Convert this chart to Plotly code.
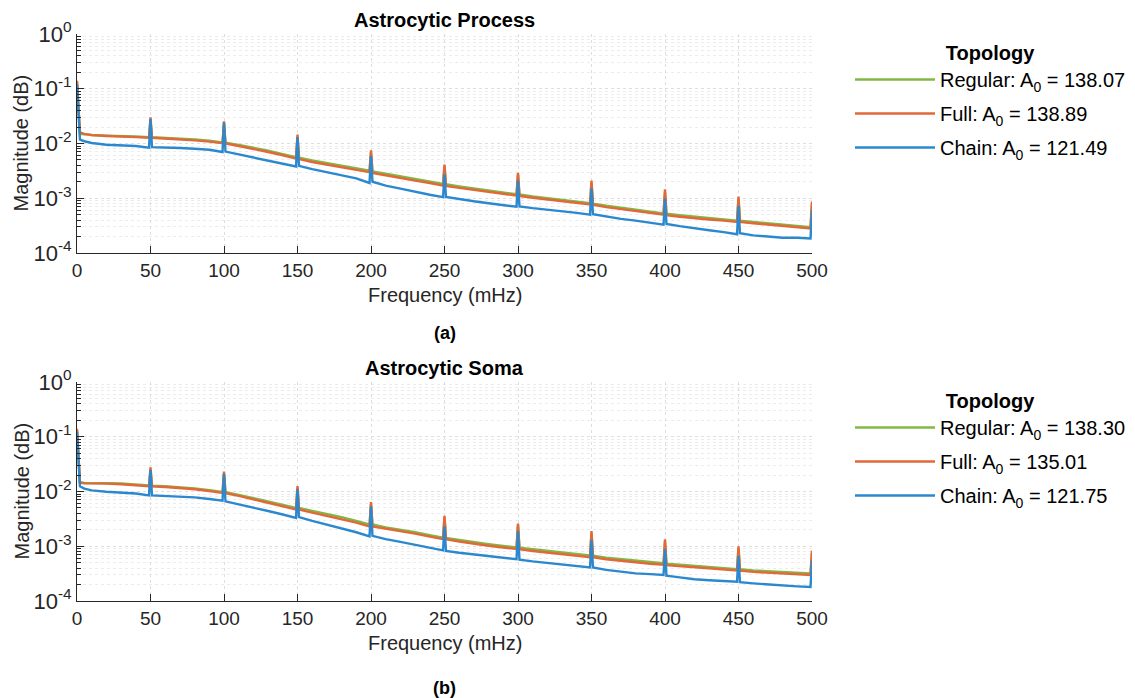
import plotly.graph_objects as go

# ---------------- data ----------------
freq = [0, 2, 5, 10, 20, 30, 40, 49, 50, 51,
        60, 70, 80, 90, 99, 100, 101,
        110, 120, 130, 140, 149, 150, 151,
        160, 170, 180, 190, 199, 200, 201,
        210, 220, 230, 240, 249, 250, 251,
        260, 270, 280, 290, 299, 300, 301,
        310, 320, 330, 340, 349, 350, 351,
        360, 370, 380, 390, 399, 400, 401,
        410, 420, 430, 440, 449, 450, 451,
        460, 470, 480, 490, 499, 500]

# Astrocytic Process
proc_regular = [0.13, 0.0150, 0.0148, 0.0143, 0.0139, 0.0138, 0.0134, 0.0130, 0.026, 0.0130,
                0.0127, 0.0123, 0.0118, 0.0112, 0.0105, 0.022, 0.0104,
                0.0094, 0.0084, 0.0074, 0.0064, 0.0056, 0.013, 0.0055,
                0.0049, 0.0044, 0.0039, 0.0035, 0.0032, 0.0068, 0.0031,
                0.0028, 0.0025, 0.0022, 0.0020, 0.00182, 0.0038, 0.0018,
                0.00165, 0.00151, 0.00139, 0.00128, 0.00118, 0.0027, 0.00117,
                0.00108, 0.00100, 0.00093, 0.00086, 0.00081, 0.0019, 0.0008,
                0.00073, 0.00067, 0.00062, 0.00057, 0.00053, 0.0013, 0.00052,
                0.00049, 0.00046, 0.00043, 0.00041, 0.00039, 0.00098, 0.00039,
                0.00037, 0.00035, 0.00033, 0.00031, 0.000295, 0.0008]
proc_full = [0.14, 0.0160, 0.0150, 0.0142, 0.0137, 0.0135, 0.0131, 0.0127, 0.030, 0.0127,
             0.0124, 0.0120, 0.0114, 0.0108, 0.0101, 0.0255, 0.0100,
             0.0090, 0.0080, 0.0070, 0.0061, 0.0053, 0.0145, 0.0052,
             0.0046, 0.0041, 0.0036, 0.0033, 0.0030, 0.0075, 0.0029,
             0.0026, 0.0023, 0.0021, 0.0019, 0.0017, 0.0041, 0.00168,
             0.00155, 0.00142, 0.00131, 0.00121, 0.00112, 0.0029, 0.00110,
             0.00102, 0.00095, 0.00088, 0.00082, 0.00077, 0.0021, 0.00076,
             0.00069, 0.00064, 0.00059, 0.00054, 0.00050, 0.00145, 0.00049,
             0.00046, 0.00043, 0.00041, 0.00039, 0.00037, 0.00107, 0.00037,
             0.00035, 0.00033, 0.00031, 0.00029, 0.00028, 0.00087]
proc_chain = [0.12, 0.0118, 0.0110, 0.0102, 0.0095, 0.0092, 0.0090, 0.0084, 0.028, 0.0086,
              0.0085, 0.0083, 0.0080, 0.0077, 0.0070, 0.024, 0.0071,
              0.0063, 0.0056, 0.0049, 0.0043, 0.0038, 0.013, 0.0039,
              0.0034, 0.0030, 0.0026, 0.0023, 0.0019, 0.0059, 0.0020,
              0.0017, 0.0015, 0.0013, 0.00116, 0.00105, 0.0027, 0.00106,
              0.00096, 0.00088, 0.00081, 0.00076, 0.00070, 0.0021, 0.00071,
              0.00066, 0.00062, 0.00058, 0.00054, 0.00050, 0.0015, 0.00051,
              0.00046, 0.00042, 0.00039, 0.00036, 0.00033, 0.00098, 0.00034,
              0.00031, 0.00028, 0.00026, 0.00024, 0.00022, 0.00072, 0.00023,
              0.00021, 0.000200, 0.00019, 0.00019, 0.000185, 0.00059]

# Astrocytic Soma
soma_regular = [0.13, 0.0148, 0.0144, 0.0142, 0.0142, 0.0140, 0.0135, 0.0129, 0.025, 0.0128,
                0.0125, 0.0120, 0.0114, 0.0106, 0.0098, 0.021, 0.0097,
                0.0087, 0.0076, 0.0066, 0.0057, 0.0050, 0.0115, 0.0050,
                0.0044, 0.0039, 0.0034, 0.0029, 0.0025, 0.0058, 0.0025,
                0.0022, 0.0020, 0.0018, 0.0016, 0.00143, 0.0033, 0.00142,
                0.00130, 0.00118, 0.00109, 0.00101, 0.00095, 0.0024, 0.00094,
                0.00088, 0.00082, 0.00077, 0.00072, 0.00068, 0.0017, 0.00067,
                0.00062, 0.00058, 0.00055, 0.00052, 0.00049, 0.0012, 0.00048,
                0.00046, 0.00044, 0.00042, 0.00040, 0.00038, 0.0009, 0.00038,
                0.00036, 0.00035, 0.00034, 0.00033, 0.00032, 0.00075]
soma_full = [0.14, 0.0145, 0.0141, 0.0139, 0.0139, 0.0136, 0.0131, 0.0125, 0.0276, 0.0124,
             0.0121, 0.0116, 0.0110, 0.0102, 0.0094, 0.023, 0.0093,
             0.0083, 0.0072, 0.0063, 0.0054, 0.0047, 0.0126, 0.0047,
             0.0041, 0.0036, 0.0031, 0.0027, 0.0023, 0.0064, 0.0023,
             0.0021, 0.0019, 0.0017, 0.0015, 0.00135, 0.0036, 0.00134,
             0.00122, 0.00111, 0.00102, 0.00095, 0.00089, 0.0026, 0.00088,
             0.00082, 0.00077, 0.00072, 0.00067, 0.00063, 0.0019, 0.00063,
             0.00058, 0.00054, 0.00051, 0.00048, 0.00046, 0.00134, 0.00045,
             0.00043, 0.00041, 0.00039, 0.00037, 0.00036, 0.00100, 0.00036,
             0.00034, 0.00033, 0.00032, 0.00031, 0.00030, 0.00083]
soma_chain = [0.125, 0.0125, 0.0113, 0.0105, 0.0099, 0.0096, 0.0092, 0.0085, 0.0247, 0.0085,
              0.0083, 0.0081, 0.0078, 0.0073, 0.0068, 0.021, 0.0066,
              0.0058, 0.0051, 0.0044, 0.0038, 0.0033, 0.011, 0.0034,
              0.0029, 0.0025, 0.0021, 0.0018, 0.00152, 0.0053, 0.00155,
              0.00135, 0.0012, 0.00105, 0.00093, 0.00084, 0.0023, 0.00082,
              0.00076, 0.00071, 0.00066, 0.00062, 0.00058, 0.0019, 0.00057,
              0.00053, 0.00050, 0.00047, 0.00044, 0.00041, 0.0013, 0.00041,
              0.00037, 0.00034, 0.00032, 0.00031, 0.00030, 0.00088, 0.00029,
              0.00027, 0.00025, 0.00024, 0.00023, 0.000225, 0.00066, 0.00022,
              0.00021, 0.00020, 0.00019, 0.000185, 0.00018, 0.00055]

proc_names = ["Regular: A<sub>0</sub> = 138.07", "Full: A<sub>0</sub> = 138.89",
              "Chain: A<sub>0</sub> = 121.49"]
soma_names = ["Regular: A<sub>0</sub> = 138.30", "Full: A<sub>0</sub> = 135.01",
              "Chain: A<sub>0</sub> = 121.75"]
panel_titles = ["Astrocytic Process", "Astrocytic Soma"]
panel_tags = ["(a)", "(b)"]

x_ticks = [0, 50, 100, 150, 200, 250, 300, 350, 400, 450, 500]
y_ticks = [1e-4, 1e-3, 1e-2, 1e-1, 1]
y_ticktext = ["10<sup>-4</sup>", "10<sup>-3</sup>", "10<sup>-2</sup>",
              "10<sup>-1</sup>", "10<sup>0</sup>"]

colors = ["#80B845", "#E2683A", "#2B88CF"]
FONT = "Liberation Sans, Arial, Helvetica, sans-serif"
TXT = "#262626"

# the page body adds an 8 px offset; the figure fills the rest of the window
OFF = 8
W, H = 1135 - OFF, 698 - OFF
def px_x(p): return (p - OFF) / W
def px_y(p): return 1 - (p - OFF) / H

fig = go.Figure()

panels = [
    (["x", "y"], "legend", [proc_regular, proc_full, proc_chain], proc_names),
    (["x2", "y2"], "legend2", [soma_regular, soma_full, soma_chain], soma_names),
]
for (xa, ya), leg, series, names in panels:
    for vals, name, col in zip(series, names, colors):
        fig.add_trace(go.Scatter(
            x=freq, y=vals, mode="lines", name=name, xaxis=xa, yaxis=ya,
            line=dict(color=col, width=2.4), legend=leg, legendgroup=leg + name,
        ))

minor_vals = [k * 10.0 ** e for e in range(-4, 0) for k in range(2, 10)]

xdom = [px_x(77), px_x(812)]
ydoms = [[px_y(253), px_y(34)], [px_y(601), px_y(382)]]

axis_common_x = dict(
    range=[0, 500], tickvals=x_ticks, ticks="inside", ticklen=7, tickwidth=1,
    tickcolor=TXT, showline=True, linecolor=TXT, linewidth=1, mirror=False,
    showgrid=True, gridcolor="#dedede", griddash="dot", gridwidth=1,
    zeroline=False, tickfont=dict(family=FONT, size=19, color=TXT),
    domain=xdom, automargin=False,
)
axis_common_y = dict(
    type="log", range=[-4, 0], tickvals=y_ticks, ticktext=y_ticktext,
    ticks="inside", ticklen=7, tickcolor=TXT, showline=True, linecolor=TXT,
    linewidth=1, mirror=False, showgrid=True, gridcolor="#dedede", griddash="dot",
    zeroline=False, tickfont=dict(family=FONT, size=22, color=TXT),
    automargin=False,
    minor=dict(tickvals=minor_vals, ticks="inside", ticklen=4, tickcolor=TXT,
               showgrid=True, gridcolor="#ececec", griddash="dot"),
)

fig.update_layout(
    width=W, height=H, margin=dict(l=0, r=0, t=0, b=0),
    paper_bgcolor="white", plot_bgcolor="white",
    font=dict(family=FONT, color=TXT),
    xaxis=dict(axis_common_x, anchor="y"),
    yaxis=dict(axis_common_y, domain=ydoms[0], anchor="x"),
    xaxis2=dict(axis_common_x, anchor="y2"),
    yaxis2=dict(axis_common_y, domain=ydoms[1], anchor="x2"),
    showlegend=True,
)

for key, ytop in (("legend", 34), ("legend2", 382)):
    fig.update_layout({key: dict(
        x=px_x(850), y=px_y(ytop), xanchor="left", yanchor="top",
        title=dict(text="<b>Topology</b>", side="top center",
                   font=dict(family=FONT, size=20, color="black")),
        font=dict(family=FONT, size=20, color="black"),
        bgcolor="rgba(0,0,0,0)", itemwidth=80, tracegroupgap=5,
        traceorder="grouped",
    )})

annotations = []
for i, (ttl, tag) in enumerate(zip(panel_titles, panel_tags)):
    top, bot = (34, 253) if i == 0 else (382, 601)
    annotations.append(dict(text="<b>" + ttl + "</b>", x=px_x(444.5), y=px_y(top - 14),
                            xref="paper", yref="paper", showarrow=False,
                            font=dict(family=FONT, size=20, color="black"),
                            xanchor="center", yanchor="middle"))
    annotations.append(dict(text="Frequency (mHz)", x=px_x(444.5), y=px_y(bot + 42),
                            xref="paper", yref="paper", showarrow=False,
                            font=dict(family=FONT, size=20, color=TXT),
                            xanchor="center", yanchor="middle"))
    annotations.append(dict(text="Magnitude (dB)", x=px_x(21), y=px_y((top + bot) / 2),
                            xref="paper", yref="paper", showarrow=False, textangle=-90,
                            font=dict(family=FONT, size=20, color=TXT),
                            xanchor="center", yanchor="middle"))
    annotations.append(dict(text="<b>" + tag + "</b>", x=px_x(444.5),
                            y=px_y(333 if i == 0 else 688),
                            xref="paper", yref="paper", showarrow=False,
                            font=dict(family=FONT, size=18, color="black"),
                            xanchor="center", yanchor="middle"))
fig.update_layout(annotations=annotations)

fig.write_html("out.html")
